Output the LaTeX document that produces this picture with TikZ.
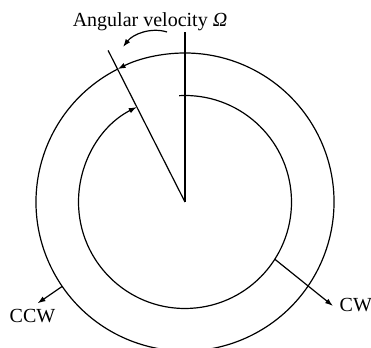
\documentclass[tikz,border=0pt]{standalone}
\usepackage{fontspec}
\setmainfont{Liberation Serif}
\usetikzlibrary{arrows.meta,calc}
\begin{document}
\begin{tikzpicture}[x=1pt,y=1pt,
  ln/.style={line width=1.2pt, black},
  arr/.style={ln, -{Latex[length=8pt,width=5.5pt]}},
  lbl/.style={font=\fontsize{20}{23}\selectfont, inner sep=0pt}]
\useasboundingbox (0,0) rectangle (371,347);
\clip (0,0) rectangle (371,347);
\coordinate (O) at (185,145);
% outer circle (rest of it) and its arrow segment
\draw[ln] ($(O)+(116.9:149)$) arc[start angle=116.9, end angle=450, radius=149];
\draw[arr] ($(O)+(90:149)$) arc[start angle=90, end angle=116.9, radius=149];
% radial lines
\coordinate (vtop) at (185,315);
\coordinate (stop) at ($(O)+(116.9:170)$);
\draw[ln] (O) -- (vtop);
\draw[ln] (O) -- (stop);
% inner arc with arrow (CW direction)
\draw[arr] ($(O)+(93.2:106.5)$) arc[start angle=93.2, end angle=-243.1, radius=106.5];
% CCW arrow
\coordinate (ccwS) at ($(O)+(214.5:149)$);
\coordinate (ccwE) at ($(O)+(214.5:179)$);
\draw[arr] (ccwS) -- (ccwE);
% CW arrow
\coordinate (cwS) at ($(O)+(-32.5:106.5)$);
\coordinate (cwE) at (333,41);
\draw[arr] (cwS) -- (cwE);
% angular velocity arrow
\coordinate (avS) at (167,315);
\coordinate (avE) at (123,300);
\draw[arr] (avS) .. controls (151,320) and (133,313) .. (avE);
% labels
\node[lbl, anchor=base] (av) at (150,320.3) {Angular velocity {\itshape Ω}};
\node[lbl, anchor=base] (ccw) at (32.5,24) {CCW};
\node[lbl, anchor=base west] (cw) at (339.5,35) {CW};
\end{tikzpicture}
\end{document}
